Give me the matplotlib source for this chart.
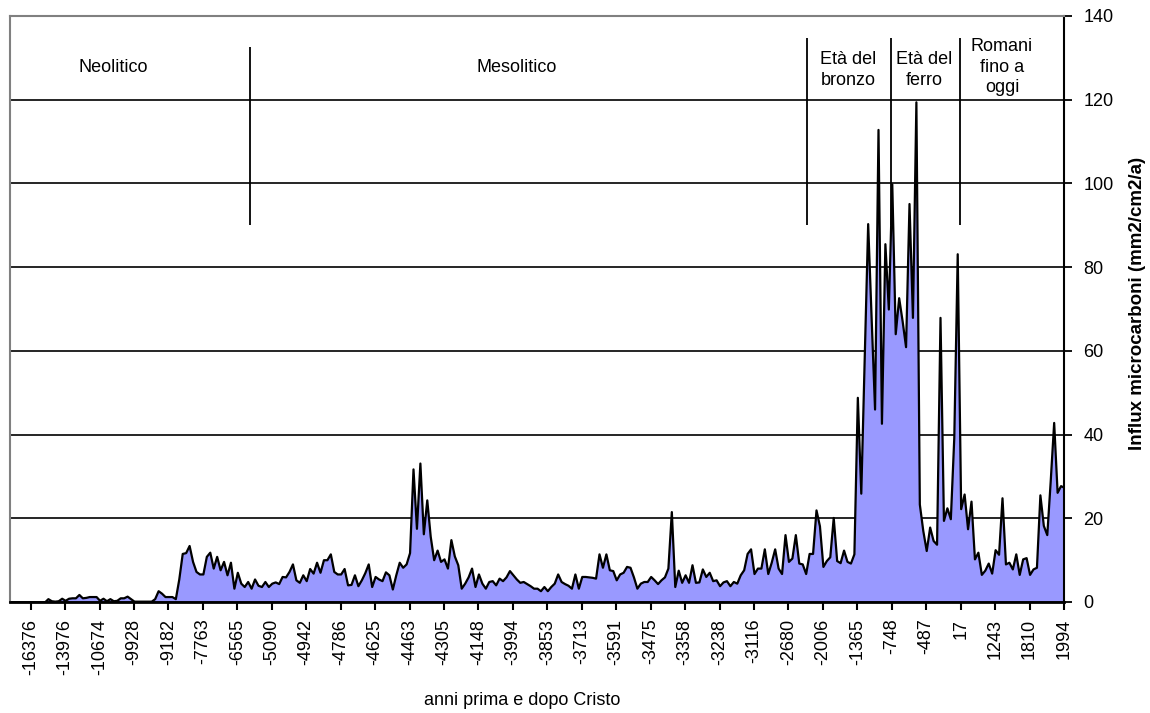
import numpy as np
import matplotlib.pyplot as plt

plt.rcParams['font.family'] = ['Liberation Sans', 'DejaVu Sans']

# influsso di microcarboni per campione (mm2/cm2/a)
influx = [
    0, 0, 0, 0, 0, 0, 0, 0, 0, 0,
    0, 0.8, 0.3, 0.2, 0.3, 0.9, 0.4, 0.9, 1.0, 1.0,
    1.8, 1.0, 1.1, 1.3, 1.3, 1.3, 0.4, 0.9, 0.3, 0.8,
    0.3, 0.4, 1.0, 1.0, 1.4, 0.8, 0.2, 0.2, 0.2, 0.2,
    0.2, 0.2, 0.8, 2.7, 2.1, 1.3, 1.3, 1.3, 0.8, 5.5,
    11.6, 11.8, 13.5, 9.7, 7.3, 6.7, 6.7, 10.9, 11.9, 8.1,
    10.9, 7.7, 9.7, 6.5, 9.5, 3.3, 7.1, 4.5, 3.7, 4.9,
    3.3, 5.5, 4.0, 3.7, 4.9, 3.7, 4.5, 4.8, 4.4, 6.1,
    6.0, 7.3, 9.1, 5.3, 4.7, 6.5, 5.1, 8.0, 6.9, 9.5,
    7.1, 10.1, 10.1, 11.5, 7.3, 6.7, 6.7, 8.0, 4.1, 4.2,
    6.5, 3.9, 5.3, 7.0, 9.1, 3.7, 6.1, 5.5, 5.1, 7.2,
    6.5, 3.1, 6.5, 9.5, 8.3, 9.1, 11.8, 31.8, 17.6, 33.2,
    16.3, 24.4, 15.7, 10.1, 12.4, 9.7, 10.3, 8.1, 14.9, 11.0,
    8.9, 3.3, 4.5, 6.0, 8.1, 3.7, 6.7, 4.5, 3.3, 4.9,
    5.1, 4.1, 5.7, 5.1, 6.0, 7.5, 6.5, 5.5, 4.7, 4.9,
    4.4, 3.9, 3.3, 3.3, 2.7, 3.7, 2.7, 3.7, 4.5, 6.7,
    4.9, 4.4, 4.0, 3.3, 6.7, 3.3, 6.1, 6.1, 6.0, 5.9,
    5.7, 11.5, 8.3, 11.5, 7.7, 7.5, 5.3, 6.7, 7.1, 8.5,
    8.3, 6.0, 3.3, 4.5, 4.9, 4.9, 6.1, 5.3, 4.4, 5.3,
    6.0, 8.1, 21.6, 3.7, 7.6, 4.7, 6.5, 4.7, 8.9, 4.7,
    4.8, 7.9, 6.1, 7.1, 5.1, 5.3, 3.9, 4.8, 5.1, 3.9,
    4.9, 4.5, 6.5, 7.7, 11.6, 12.7, 6.8, 8.1, 8.1, 12.7,
    6.8, 9.5, 12.7, 8.1, 6.8, 16.1, 9.7, 10.5, 16.1, 9.3,
    9.1, 6.8, 11.6, 11.6, 22.0, 18.2, 8.5, 9.9, 10.8, 20.2,
    9.9, 9.4, 12.4, 9.7, 9.3, 11.5, 48.9, 26.0, 58.4, 90.4,
    68.0, 46.1, 112.9, 42.7, 85.6, 70.0, 99.9, 64.1, 72.7, 67.2,
    61.0, 95.2, 68.0, 119.5, 23.4, 17.1, 12.3, 17.9, 14.7, 13.8,
    68.0, 19.5, 22.5, 19.9, 39.3, 83.2, 22.3, 25.8, 17.5, 24.1,
    10.3, 11.9, 6.6, 7.6, 9.3, 6.9, 12.5, 11.4, 24.9, 9.1,
    9.5, 7.9, 11.5, 6.6, 10.3, 10.6, 6.6, 7.9, 8.3, 25.6,
    18.3, 16.1, 29.0, 42.9, 26.2, 27.8, 27.4,
]

anni_labels = [
    "-16376", "-13976", "-10674", "-9928", "-9182", "-7763", "-6565", "-5090",
    "-4942", "-4786", "-4625", "-4463", "-4305", "-4148", "-3994", "-3853",
    "-3713", "-3591", "-3475", "-3358", "-3238", "-3116", "-2680", "-2006",
    "-1365", "-748", "-487", "17", "1243", "1810", "1994",
]

periodi = ["Neolitico", "Mesolitico", "Età del\nbronzo", "Età del\nferro", "Romani\nfino a\noggi"]

fig = plt.figure(figsize=(11.5, 7.13), dpi=100)
ax = fig.add_axes([10 / 1150, 1 - 602 / 713, 1054 / 1150, 586 / 713])

x = np.arange(len(influx))
ax.fill_between(x, influx, 0, facecolor="#9999ff", edgecolor="black",
                linewidth=1.6, zorder=2)

for v in range(20, 140, 20):
    ax.axhline(v, color="black", lw=1.2, zorder=1)

# confini tra i periodi
ax.vlines(69.6, 90, 132.5, color="black", lw=1.3, zorder=3)
for b in [231.5, 255.8, 275.8]:
    ax.vlines(b, 90, 134.7, color="black", lw=1.3, zorder=3)

text_pos = [(30, 127.6), (147, 127.6), (243.4, 127.2), (265.4, 127.2), (288, 127.8)]
for lab, (px, py) in zip(periodi, text_pos):
    ax.text(px, py, lab, ha="center", va="center", fontsize=13, linespacing=1.3, zorder=4)

ax.set_xlim(0, len(influx) - 1)
ax.set_ylim(0, 140)

ax.set_xticks(x[6::10])
ax.set_xticklabels(anni_labels, rotation=90, fontsize=13)
ax.yaxis.tick_right()
ax.set_yticks(range(0, 141, 20))
ax.tick_params(axis="y", direction="out", length=6, width=1.3, labelsize=13, pad=8)
ax.tick_params(axis="x", direction="out", length=6, width=1.5, pad=6)

for s in ["left", "top"]:
    ax.spines[s].set_color("#808080")
    ax.spines[s].set_linewidth(1.5)
ax.spines["right"].set_color("black")
ax.spines["right"].set_linewidth(1.5)
ax.spines["bottom"].set_color("black")
ax.spines["bottom"].set_linewidth(2)

ax.yaxis.set_label_position("right")
ax.set_ylabel("Influx microcarboni (mm2/cm2/a)", fontsize=13.5, fontweight="bold")
ax.yaxis.set_label_coords(1.062, 0.51)
ax.set_xlabel("anni prima e dopo Cristo", fontsize=13)
ax.xaxis.set_label_coords(0.486, -0.154)

fig.savefig("out.png", dpi=100)
